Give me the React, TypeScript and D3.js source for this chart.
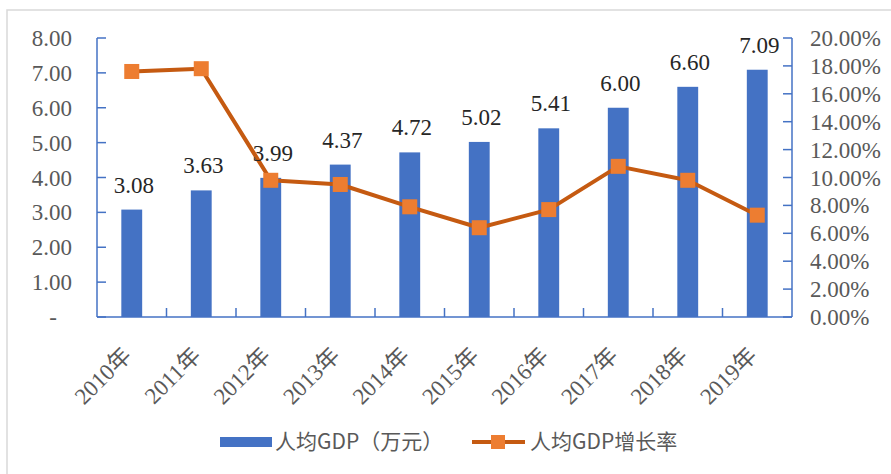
import React from 'react';
import * as d3 from 'd3';

const years = ['2010年', '2011年', '2012年', '2013年', '2014年', '2015年', '2016年', '2017年', '2018年', '2019年'];
const gdpPerCapita = [3.08, 3.63, 3.99, 4.37, 4.72, 5.02, 5.41, 6.0, 6.6, 7.09];
const growthRate = [0.176, 0.178, 0.098, 0.095, 0.079, 0.064, 0.077, 0.108, 0.098, 0.073];
const leftTicks = [0, 1, 2, 3, 4, 5, 6, 7, 8];
const rightTicks = [0, 0.02, 0.04, 0.06, 0.08, 0.1, 0.12, 0.14, 0.16, 0.18, 0.2];
const barName = '人均GDP（万元）';
const lineName = '人均GDP增长率';

const W = 891;
const H = 474;
const left = 97, right = 792, top = 38, bottom = 317;

const blue = '#4472C4';
const lineColor = '#C55A11';
const markerColor = '#ED7D31';
const gray = '#595959';
const serif = '"Liberation Serif", "Times New Roman", serif';
const cjk = '"Noto Sans CJK SC", sans-serif';

const App = () => {
  const x = d3.scaleBand().domain(years).range([left, right]).padding(0);
  const yL = d3.scaleLinear().domain([0, 8]).range([bottom, top]);
  const yR = d3.scaleLinear().domain([0, 0.2]).range([bottom, top]);
  const fmt = d3.format('.2f');
  const pct = d3.format('.2%');
  const bw = x.bandwidth() * 0.3;
  const cx = (d: string) => (x(d) as number) + x.bandwidth() / 2;

  const line = d3
    .line<number>()
    .x((_, i) => cx(years[i]))
    .y((d) => yR(d));

  return (
    <svg width={W} height={H} style={{ position: 'absolute', left: 0, top: 0, background: '#fff' }}>
      <rect x={7} y={10} width={900} height={490} fill="none" stroke="#d9d9d9" strokeWidth={1.5} />

      {/* bars */}
      {gdpPerCapita.map((v, i) => (
        <rect key={i} x={cx(years[i]) - bw / 2} y={yL(v)} width={bw} height={bottom - yL(v)} fill={blue} />
      ))}

      {/* axes */}
      <g stroke={blue} strokeWidth={1.5} fill="none">
        <line x1={left} x2={left} y1={top} y2={bottom} />
        <line x1={right} x2={right} y1={top} y2={bottom} />
        <line x1={left} x2={right} y1={bottom} y2={bottom} />
        {leftTicks.map((t) => (
          <line key={'l' + t} x1={left} x2={left + 9} y1={yL(t)} y2={yL(t)} />
        ))}
        {rightTicks.map((t) => (
          <line key={'r' + t} x1={right - 9} x2={right} y1={yR(t)} y2={yR(t)} />
        ))}
        {years.slice(1).map((d) => (
          <line key={'b' + d} x1={x(d)} x2={x(d)} y1={bottom - 9} y2={bottom} />
        ))}
      </g>

      {/* tick labels */}
      <g fontFamily={serif} fontSize={23} fill={gray}>
        {leftTicks.map((t) => (
          <text key={t} x={t === 0 ? 57 : 72} y={yL(t)} dy="0.35em" textAnchor="end">
            {t === 0 ? '-' : fmt(t)}
          </text>
        ))}
        {rightTicks.map((t) => (
          <text key={t} x={810} y={yR(t)} dy="0.35em" textAnchor="start">
            {pct(t)}
          </text>
        ))}
      </g>

      {/* category labels */}
      <g fontFamily={`${serif}, ${cjk}`} fontSize={23} fill={gray}>
        {years.map((d) => (
          <text key={d} transform={`translate(${cx(d) + 1},${357}) rotate(-45)`} textAnchor="end">
            {d}
          </text>
        ))}
      </g>

      {/* line */}
      <path d={line(growthRate) || ''} fill="none" stroke={lineColor} strokeWidth={4} strokeLinejoin="round" />
      {growthRate.map((v, i) => (
        <rect key={i} x={cx(years[i]) - 7.5} y={yR(v) - 7.5} width={15} height={15} fill={markerColor} />
      ))}

      {/* data labels */}
      <g fontFamily={serif} fontSize={23} fill="#262626" textAnchor="middle">
        {gdpPerCapita.map((v, i) => (
          <text key={i} x={cx(years[i]) + 2} y={yL(v) - 17}>
            {fmt(v)}
          </text>
        ))}
      </g>

      {/* legend */}
      <g fontFamily={cjk} fontSize={21} fill={gray}>
        <rect x={220} y={437} width={52} height={10} fill={blue} />
        <text x={275} y={442} dy="0.35em">{barName}</text>
        <line x1={472} x2={525} y1={442} y2={442} stroke={lineColor} strokeWidth={4} />
        <rect x={491} y={435} width={14} height={14} fill={markerColor} />
        <text x={530} y={442} dy="0.35em">{lineName}</text>
      </g>
    </svg>
  );
};

export default App;
